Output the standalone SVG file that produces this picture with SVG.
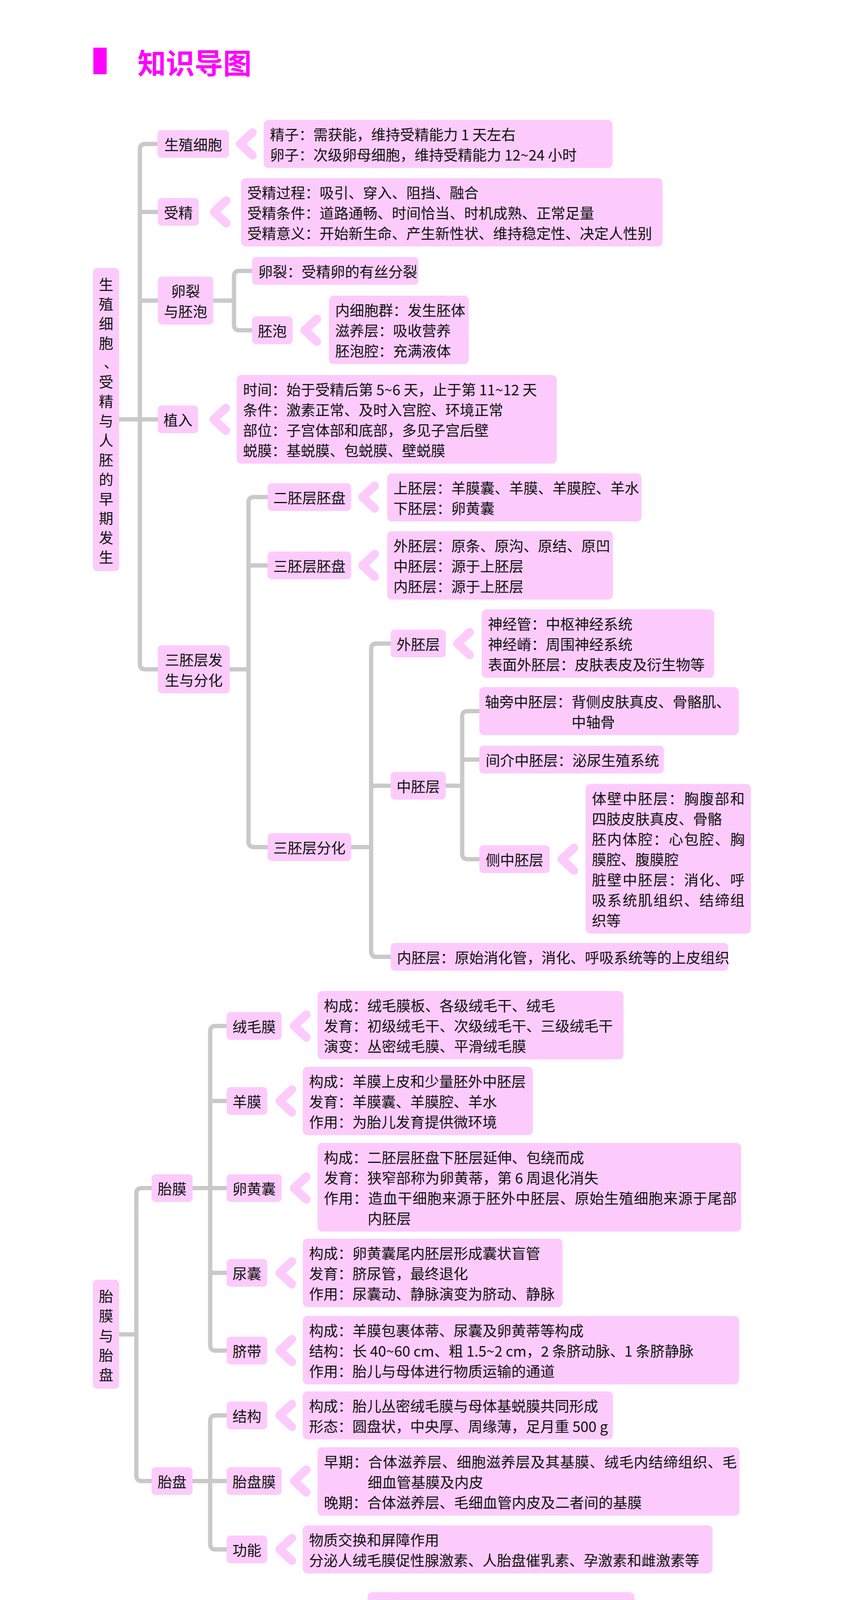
<svg xmlns="http://www.w3.org/2000/svg" xmlns:xlink="http://www.w3.org/1999/xlink" width="2186" height="4725" viewBox="0 0 2186 4725">
<style>
.bg{fill:#ffffff}
.box{fill:#FCCBFC}
.chev{fill:none;stroke:#FCCBFC;stroke-width:22;stroke-linecap:round;stroke-linejoin:round}
.conn{fill:none;stroke:#C9C9C9;stroke-width:11}
text{font-family:"Noto Sans CJK SC","Noto Sans CJK JP",sans-serif;font-size:37px;fill:#111111;dominant-baseline:central}
.c{text-anchor:middle}
.title{font-size:73px;font-weight:bold;fill:#FF00FF}
</style>
<defs>
<path id="chev" d="M42,-29 L11,0 L42,29"/>
</defs>
<rect class="bg" x="0" y="0" width="2186" height="4725"/>

<g id="title">
<rect x="239" y="122" width="34" height="68" fill="#FF00FF"/>
<text class="title" x="352" y="157">知识导图</text>
</g>

<g id="connectors">
<path class="conn" d="M403,368.5 H372 Q358,368.5 358,382.5 V1699.5 Q358,1713.5 372,1713.5 H404"/>
<path class="conn" d="M358,542.5 H404 M358,769.5 H404 M305,1073.5 H404"/>
<path class="conn" d="M546,769.5 H599 M645,693.5 H613 Q599,693.5 599,707.5 V831.5 Q599,845.5 613,845.5 H645"/>
<path class="conn" d="M588,1713.5 H636 M685,1272.5 H650 Q636,1272.5 636,1286.5 V2154.5 Q636,2168.5 650,2168.5 H685 M636,1447.5 H685"/>
<path class="conn" d="M899,2168.5 H950 M1000,1647.5 H964 Q950,1647.5 950,1661.5 V2435.5 Q950,2449.5 964,2449.5 H1000 M950,2011.5 H1000"/>
<path class="conn" d="M1141,2011.5 H1183 M1227,1820.5 H1197 Q1183,1820.5 1183,1834.5 V2185.5 Q1183,2199.5 1197,2199.5 H1227 M1183,1944.5 H1227"/>
<path class="conn" d="M305,3416 H349 M388,3041.5 H363 Q349,3041.5 349,3055.5 V3777.5 Q349,3791.5 363,3791.5 H388"/>
<path class="conn" d="M493,3041.5 H538 M580,2626.5 H552 Q538,2626.5 538,2640.5 V3443.5 Q538,3457.5 552,3457.5 H580 M538,2818.5 H580 M538,3041.5 H580 M538,3258.5 H580"/>
<path class="conn" d="M493,3791.5 H538 M580,3623.5 H552 Q538,3623.5 538,3637.5 V3952.5 Q538,3966.5 552,3966.5 H580 M538,3791.5 H580"/>
<path class="conn" d="M648,4262.5 H697 M742,4138.5 H711 Q697,4138.5 697,4152.5 V4368.5 Q697,4382.5 711,4382.5 H742 M697,4263.5 H742"/>
</g>

<g id="chevrons">
<use class="chev" xlink:href="#chev" href="#chev" x="604" y="368.5"/>
<use class="chev" xlink:href="#chev" href="#chev" x="537" y="542.5"/>
<use class="chev" xlink:href="#chev" href="#chev" x="769" y="845.5"/>
<use class="chev" xlink:href="#chev" href="#chev" x="536" y="1073.5"/>
<use class="chev" xlink:href="#chev" href="#chev" x="917" y="1272.5"/>
<use class="chev" xlink:href="#chev" href="#chev" x="917" y="1447.5"/>
<use class="chev" xlink:href="#chev" href="#chev" x="1160" y="1647.5"/>
<use class="chev" xlink:href="#chev" href="#chev" x="1427" y="2199.5"/>
<use class="chev" xlink:href="#chev" href="#chev" x="742" y="2626.5"/>
<use class="chev" xlink:href="#chev" href="#chev" x="705" y="2818.5"/>
<use class="chev" xlink:href="#chev" href="#chev" x="742" y="3041.5"/>
<use class="chev" xlink:href="#chev" href="#chev" x="705" y="3258.5"/>
<use class="chev" xlink:href="#chev" href="#chev" x="705" y="3457.5"/>
<use class="chev" xlink:href="#chev" href="#chev" x="705" y="3623.5"/>
<use class="chev" xlink:href="#chev" href="#chev" x="742" y="3791.5"/>
<use class="chev" xlink:href="#chev" href="#chev" x="705" y="3966.5"/>
<use class="chev" xlink:href="#chev" href="#chev" x="869" y="4138.5"/>
<use class="chev" xlink:href="#chev" href="#chev" x="943" y="4382.5"/>
<use class="chev" xlink:href="#chev" href="#chev" x="439" y="4545.5"/>
</g>

<!-- Section 1 -->
<g id="n-root1">
<rect class="box" x="238" y="686" width="67" height="776" rx="10"/>
<text class="c"><tspan x="271.5" y="727">生</tspan><tspan x="271.5" y="776.9">殖</tspan><tspan x="271.5" y="826.7">细</tspan><tspan x="271.5" y="876.6">胞</tspan><tspan x="284" y="926.4">、</tspan><tspan x="271.5" y="976.3">受</tspan><tspan x="271.5" y="1026.2">精</tspan><tspan x="271.5" y="1076">与</tspan><tspan x="271.5" y="1125.9">人</tspan><tspan x="271.5" y="1175.7">胚</tspan><tspan x="271.5" y="1225.6">的</tspan><tspan x="271.5" y="1275.5">早</tspan><tspan x="271.5" y="1325.3">期</tspan><tspan x="271.5" y="1375.2">发</tspan><tspan x="271.5" y="1425">生</tspan></text>
</g>
<g id="n-szxb">
<rect class="box" x="403" y="333" width="183" height="71" rx="10"/>
<text class="c" x="494.5" y="368.5">生殖细胞</text>
</g>
<g id="d-szxb">
<rect class="box" x="675" y="307" width="893" height="123" rx="12"/>
<text x="691" y="342.5">精子：需获能，维持受精能力 1 天左右</text>
<text x="691" y="394.5">卵子：次级卵母细胞，维持受精能力 12~24 小时</text>
</g>
<g id="n-sj">
<rect class="box" x="404" y="507" width="105" height="71" rx="10"/>
<text class="c" x="456.5" y="542.5">受精</text>
</g>
<g id="d-sj">
<rect class="box" x="617" y="456" width="1079" height="175" rx="12"/>
<text x="633" y="491.5">受精过程：吸引、穿入、阻挡、融合</text>
<text x="633" y="543.5">受精条件：道路通畅、时间恰当、时机成熟、正常足量</text>
<text x="633" y="595.5">受精意义：开始新生命、产生新性状、维持稳定性、决定人性别</text>
</g>
<g id="n-lljp">
<rect class="box" x="404" y="708" width="142" height="123" rx="10"/>
<text class="c" x="475" y="743.5">卵裂</text>
<text class="c" x="475" y="795.5">与胚泡</text>
</g>
<g id="n-ll">
<rect class="box" x="645" y="658" width="426" height="71" rx="10"/>
<text x="661" y="693.5">卵裂：受精卵的有丝分裂</text>
</g>
<g id="n-pp">
<rect class="box" x="645" y="810" width="104" height="71" rx="10"/>
<text class="c" x="697" y="845.5">胚泡</text>
</g>
<g id="d-pp">
<rect class="box" x="842" y="757" width="358" height="175" rx="12"/>
<text x="858" y="792.5">内细胞群：发生胚体</text>
<text x="858" y="844.5">滋养层：吸收营养</text>
<text x="858" y="896.5">胚泡腔：充满液体</text>
</g>
<g id="n-zr">
<rect class="box" x="404" y="1038" width="103" height="71" rx="10"/>
<text class="c" x="455.5" y="1073.5">植入</text>
</g>
<g id="d-zr">
<rect class="box" x="606" y="960" width="819" height="227" rx="12"/>
<text x="622" y="995.5">时间：始于受精后第 5~6 天，止于第 11~12 天</text>
<text x="622" y="1047.5">条件：激素正常、及时入宫腔、环境正常</text>
<text x="622" y="1099.5">部位：子宫体部和底部，多见子宫后壁</text>
<text x="622" y="1151.5">蜕膜：基蜕膜、包蜕膜、壁蜕膜</text>
</g>
<g id="n-spcfs">
<rect class="box" x="404" y="1652" width="184" height="123" rx="10"/>
<text class="c" x="496" y="1687.5">三胚层发</text>
<text class="c" x="496" y="1739.5">生与分化</text>
</g>
<g id="n-epcpp">
<rect class="box" x="685" y="1237" width="214" height="71" rx="10"/>
<text class="c" x="792" y="1272.5">二胚层胚盘</text>
</g>
<g id="d-epcpp">
<rect class="box" x="991" y="1212" width="651" height="123" rx="12"/>
<text x="1007" y="1247.5">上胚层：羊膜囊、羊膜、羊膜腔、羊水</text>
<text x="1007" y="1299.5">下胚层：卵黄囊</text>
</g>
<g id="n-spcpp">
<rect class="box" x="685" y="1412" width="214" height="71" rx="10"/>
<text class="c" x="792" y="1447.5">三胚层胚盘</text>
</g>
<g id="d-spcpp">
<rect class="box" x="991" y="1360" width="578" height="175" rx="12"/>
<text x="1007" y="1395.5">外胚层：原条、原沟、原结、原凹</text>
<text x="1007" y="1447.5">中胚层：源于上胚层</text>
<text x="1007" y="1499.5">内胚层：源于上胚层</text>
</g>
<g id="n-spcfh">
<rect class="box" x="685" y="2133" width="214" height="71" rx="10"/>
<text class="c" x="792" y="2168.5">三胚层分化</text>
</g>
<g id="n-wpc">
<rect class="box" x="1000" y="1612" width="141" height="71" rx="10"/>
<text class="c" x="1070.5" y="1647.5">外胚层</text>
</g>
<g id="d-wpc">
<rect class="box" x="1233" y="1560" width="595" height="175" rx="12"/>
<text x="1249" y="1595.5">神经管：中枢神经系统</text>
<text x="1249" y="1647.5">神经嵴：周围神经系统</text>
<text x="1249" y="1699.5">表面外胚层：皮肤表皮及衍生物等</text>
</g>
<g id="n-zpc">
<rect class="box" x="1000" y="1976" width="141" height="71" rx="10"/>
<text class="c" x="1070.5" y="2011.5">中胚层</text>
</g>
<g id="n-zpzpc">
<rect class="box" x="1227" y="1759" width="664" height="123" rx="12"/>
<text x="1241" y="1794.5">轴旁中胚层：背侧皮肤真皮、骨骼肌、</text>
<text x="1463" y="1846.5">中轴骨</text>
</g>
<g id="n-jjzpc">
<rect class="box" x="1227" y="1909" width="472" height="71" rx="10"/>
<text x="1243" y="1944.5">间介中胚层：泌尿生殖系统</text>
</g>
<g id="n-czpc">
<rect class="box" x="1227" y="2164" width="180" height="71" rx="10"/>
<text class="c" x="1317" y="2199.5">侧中胚层</text>
</g>
<g id="d-czpc">
<rect class="box" x="1499" y="2007" width="423" height="383" rx="12"/>
<text x="1515" y="2042.5" textLength="391" lengthAdjust="spacing">体壁中胚层：胸腹部和</text>
<text x="1515" y="2094.5">四肢皮肤真皮、骨骼</text>
<text x="1515" y="2146.5" textLength="391" lengthAdjust="spacing">胚内体腔：心包腔、胸</text>
<text x="1515" y="2198.5">膜腔、腹膜腔</text>
<text x="1515" y="2250.5" textLength="391" lengthAdjust="spacing">脏壁中胚层：消化、呼</text>
<text x="1515" y="2302.5" textLength="391" lengthAdjust="spacing">吸系统肌组织、结缔组</text>
<text x="1515" y="2354.5">织等</text>
</g>
<g id="n-npc">
<rect class="box" x="1000" y="2414" width="864" height="71" rx="10"/>
<text x="1016" y="2449.5">内胚层：原始消化管，消化、呼吸系统等的上皮组织</text>
</g>

<!-- Section 2 -->
<g id="n-root2">
<rect class="box" x="238" y="3276" width="67" height="279" rx="10"/>
<text class="c"><tspan x="271.5" y="3317">胎</tspan><tspan x="271.5" y="3367.3">膜</tspan><tspan x="271.5" y="3417.6">与</tspan><tspan x="271.5" y="3467.9">胎</tspan><tspan x="271.5" y="3518.2">盘</tspan></text>
</g>
<g id="n-tm">
<rect class="box" x="388" y="3006" width="105" height="71" rx="10"/>
<text class="c" x="440.5" y="3041.5">胎膜</text>
</g>
<g id="n-rmm">
<rect class="box" x="580" y="2591" width="141" height="71" rx="10"/>
<text class="c" x="650.5" y="2626.5">绒毛膜</text>
</g>
<g id="d-rmm">
<rect class="box" x="813" y="2537" width="783" height="175" rx="12"/>
<text x="829" y="2572.5">构成：绒毛膜板、各级绒毛干、绒毛</text>
<text x="829" y="2624.5">发育：初级绒毛干、次级绒毛干、三级绒毛干</text>
<text x="829" y="2676.5">演变：丛密绒毛膜、平滑绒毛膜</text>
</g>
<g id="n-ym">
<rect class="box" x="580" y="2783" width="104" height="71" rx="10"/>
<text class="c" x="632" y="2818.5">羊膜</text>
</g>
<g id="d-ym">
<rect class="box" x="775" y="2731" width="589" height="175" rx="12"/>
<text x="791" y="2766.5">构成：羊膜上皮和少量胚外中胚层</text>
<text x="791" y="2818.5">发育：羊膜囊、羊膜腔、羊水</text>
<text x="791" y="2870.5">作用：为胎儿发育提供微环境</text>
</g>
<g id="n-lhn">
<rect class="box" x="580" y="3006" width="141" height="71" rx="10"/>
<text class="c" x="650.5" y="3041.5">卵黄囊</text>
</g>
<g id="d-lhn">
<rect class="box" x="813" y="2926" width="1084" height="227" rx="12"/>
<text x="829" y="2961.5">构成：二胚层胚盘下胚层延伸、包绕而成</text>
<text x="829" y="3013.5">发育：狭窄部称为卵黄蒂，第 6 周退化消失</text>
<text x="829" y="3065.5" textLength="1057" lengthAdjust="spacing">作用：造血干细胞来源于胚外中胚层、原始生殖细胞来源于尾部</text>
<text x="941" y="3117.5">内胚层</text>
</g>
<g id="n-nn">
<rect class="box" x="580" y="3223" width="104" height="71" rx="10"/>
<text class="c" x="632" y="3258.5">尿囊</text>
</g>
<g id="d-nn">
<rect class="box" x="775" y="3171" width="665" height="175" rx="12"/>
<text x="791" y="3206.5">构成：卵黄囊尾内胚层形成囊状盲管</text>
<text x="791" y="3258.5">发育：脐尿管，最终退化</text>
<text x="791" y="3310.5">作用：尿囊动、静脉演变为脐动、静脉</text>
</g>
<g id="n-qd">
<rect class="box" x="580" y="3422" width="104" height="71" rx="10"/>
<text class="c" x="632" y="3457.5">脐带</text>
</g>
<g id="d-qd">
<rect class="box" x="775" y="3369" width="1117" height="175" rx="12"/>
<text x="791" y="3404.5">构成：羊膜包裹体蒂、尿囊及卵黄蒂等构成</text>
<text x="791" y="3456.5">结构：长 40~60 cm、粗 1.5~2 cm，2 条脐动脉、1 条脐静脉</text>
<text x="791" y="3508.5">作用：胎儿与母体进行物质运输的通道</text>
</g>
<g id="n-tp">
<rect class="box" x="388" y="3756" width="105" height="71" rx="10"/>
<text class="c" x="440.5" y="3791.5">胎盘</text>
</g>
<g id="n-jg">
<rect class="box" x="580" y="3588" width="104" height="71" rx="10"/>
<text class="c" x="632" y="3623.5">结构</text>
</g>
<g id="d-jg">
<rect class="box" x="775" y="3562" width="794" height="123" rx="12"/>
<text x="791" y="3597.5">构成：胎儿丛密绒毛膜与母体基蜕膜共同形成</text>
<text x="791" y="3649.5">形态：圆盘状，中央厚、周缘薄，足月重 500 g</text>
</g>
<g id="n-tpm">
<rect class="box" x="580" y="3756" width="141" height="71" rx="10"/>
<text class="c" x="650.5" y="3791.5">胎盘膜</text>
</g>
<g id="d-tpm">
<rect class="box" x="813" y="3705" width="1080" height="175" rx="12"/>
<text x="829" y="3740.5" textLength="1057" lengthAdjust="spacing">早期：合体滋养层、细胞滋养层及其基膜、绒毛内结缔组织、毛</text>
<text x="941" y="3792.5">细血管基膜及内皮</text>
<text x="829" y="3844.5">晚期：合体滋养层、毛细血管内皮及二者间的基膜</text>
</g>
<g id="n-gn">
<rect class="box" x="580" y="3931" width="104" height="71" rx="10"/>
<text class="c" x="632" y="3966.5">功能</text>
</g>
<g id="d-gn">
<rect class="box" x="775" y="3905" width="1049" height="123" rx="12"/>
<text x="791" y="3940.5">物质交换和屏障作用</text>
<text x="791" y="3992.5">分泌人绒毛膜促性腺激素、人胎盘催乳素、孕激素和雌激素等</text>
</g>

<!-- Section 3 -->
<g id="n-root3">
<rect class="box" x="238" y="4227" width="410" height="71" rx="10"/>
<text class="c" x="443" y="4262.5">双胎、多胎、联体双胎</text>
</g>
<g id="n-st">
<rect class="box" x="742" y="4103" width="107" height="71" rx="10"/>
<text class="c" x="795.5" y="4138.5">双胎</text>
</g>
<g id="d-st">
<rect class="box" x="941" y="4076" width="683" height="123" rx="12"/>
<text x="957" y="4111.5">概念：一次妊娠有两个胎儿同时发育成熟</text>
<text x="957" y="4163.5">类型：双卵孪生、单卵孪生</text>
</g>
<g id="n-dt">
<rect class="box" x="742" y="4228" width="779" height="71" rx="10"/>
<text x="758" y="4263.5">多胎：一次妊娠有两个以上的胎儿发生和发育</text>
</g>
<g id="n-ltst">
<rect class="box" x="742" y="4347" width="179" height="71" rx="10"/>
<text class="c" x="831.5" y="4382.5">联体双胎</text>
</g>
<g id="d-ltst">
<rect class="box" x="1013" y="4322" width="686" height="123" rx="12"/>
<text x="1029" y="4357.5">概念：两个孪生胎儿某一部位连接在一起</text>
<text x="1029" y="4409.5">类型：对称型、非对称型</text>
</g>

<!-- Section 4 -->
<g id="n-xtjx">
<rect class="box" x="238" y="4510" width="180" height="71" rx="10"/>
<text class="c" x="328" y="4545.5">先天畸形</text>
</g>
<g id="d-xtjx">
<rect class="box" x="511" y="4484" width="744" height="123" rx="12"/>
<text x="527" y="4519.5">原因：遗传因素、环境因素、二者相互作用</text>
<text x="527" y="4571.5">致畸敏感期：最易发生畸形的胚胎发育阶段</text>
</g>
</svg>
